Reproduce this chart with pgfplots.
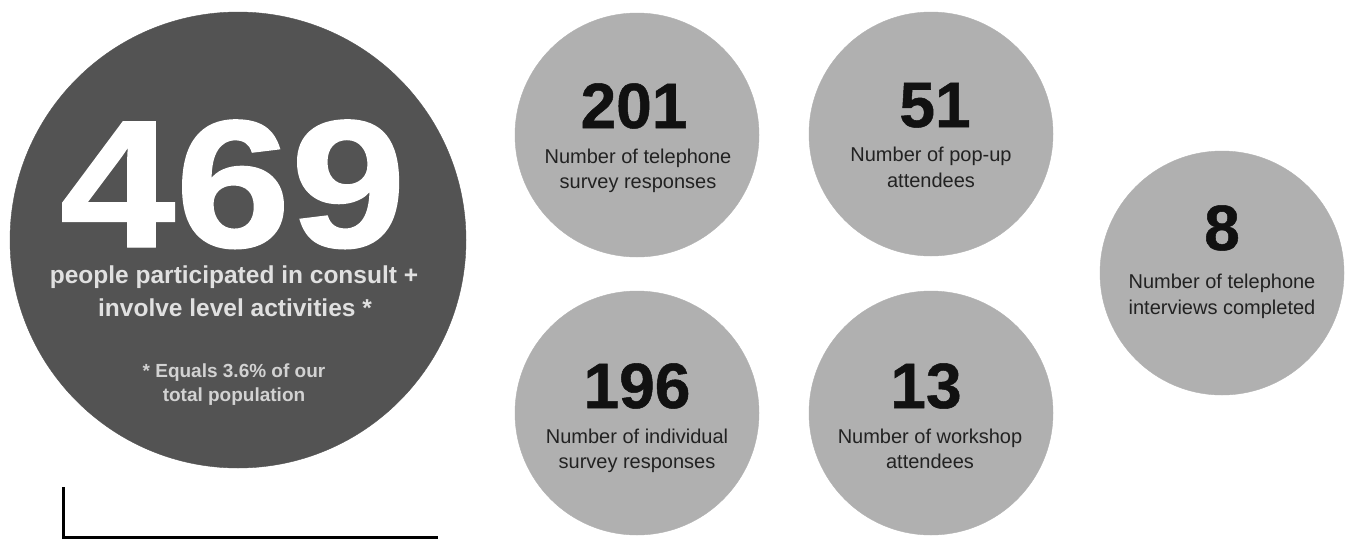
\documentclass[border=0pt]{standalone}
\usepackage{pgfplots}
\pgfplotsset{compat=1.18}
\usepackage{pgfplotstable}
\usepackage{graphicx}
\usepackage{fontspec}
\setmainfont{Liberation Sans}
\newfontfamily\heavyfont{Liberation Sans Bold}[FakeBold=0.8]
\definecolor{darkc}{HTML}{535353}
\definecolor{lightc}{HTML}{B0B0B0}
\definecolor{subc}{HTML}{E0E0E0}
\definecolor{notec}{HTML}{D2D2D2}
\definecolor{numc}{HTML}{111111}
\definecolor{labc}{HTML}{222222}
\tikzset{
  lab/.style={anchor=base, inner sep=0pt, text=labc, font=\fontsize{20}{24}\selectfont},
  num/.style={anchor=base, inner sep=0pt, text=numc, font=\heavyfont\fontsize{64}{64}\selectfont},
}
\pgfplotsset{
  canvas/.style={width=1351pt, height=541pt, scale only axis,
    xmin=0, xmax=1351, ymin=0, ymax=541, y dir=reverse,
    hide axis, clip=false},
}

\pgfplotstableread{
x y
238 240
}\bigcircle
\pgfplotstableread{
x y
637 135
931 134
637 413
931 413
1222 273
}\smallcircles

\begin{document}
\begin{tikzpicture}
\begin{axis}[canvas]
\addplot[draw=none, mark=none] coordinates {(0,0) (1351,541)};
\addplot[darkc, only marks, mark=*, mark size=228pt, mark options={fill=darkc, draw=darkc}] table {\bigcircle};
\addplot[lightc, only marks, mark=*, mark size=122pt, mark options={fill=lightc, draw=lightc}] table {\smallcircles};
\end{axis}
\begin{axis}[canvas]
\addplot[draw=none, mark=none] coordinates {(0,0) (1351,541)};
\addplot[black, line width=3pt, mark=none] coordinates {(63,487) (63,537) (438,537)};

% big circle
\node[anchor=base, inner sep=0pt, text=white, font=\heavyfont\fontsize{182}{182}\selectfont] at (axis cs:233,247) {\scalebox{1.14}[1]{469}};
\node[anchor=base, inner sep=0pt, text=subc, font=\bfseries\fontsize{24.5}{28}\selectfont] at (axis cs:234,283) {people participated in consult +};
\node[anchor=base, inner sep=0pt, text=subc, font=\bfseries\fontsize{24.5}{28}\selectfont] at (axis cs:235,316) {involve level activities *};
\node[anchor=base, inner sep=0pt, text=notec, font=\bfseries\fontsize{19}{22}\selectfont] at (axis cs:234,377) {* Equals 3.6\% of our};
\node[anchor=base, inner sep=0pt, text=notec, font=\bfseries\fontsize{19}{22}\selectfont] at (axis cs:234,401) {total population};

% 201
\node[num] at (axis cs:634,128) {201};
\node[lab] at (axis cs:638,163) {Number of telephone};
\node[lab] at (axis cs:638,188) {survey responses};
% 51
\node[num] at (axis cs:935,127) {51};
\node[lab] at (axis cs:931,161) {Number of pop-up};
\node[lab] at (axis cs:931,187) {attendees};
% 196
\node[num] at (axis cs:637,408) {196};
\node[lab] at (axis cs:637,443) {Number of individual};
\node[lab] at (axis cs:637,468) {survey responses};
% 13
\node[num] at (axis cs:926,408) {13};
\node[lab] at (axis cs:930,443) {Number of workshop};
\node[lab] at (axis cs:930,468) {attendees};
% 8
\node[num] at (axis cs:1222,250) {8};
\node[lab] at (axis cs:1222,288) {Number of telephone};
\node[lab] at (axis cs:1222,314) {interviews completed};
\end{axis}
\end{tikzpicture}
\end{document}
